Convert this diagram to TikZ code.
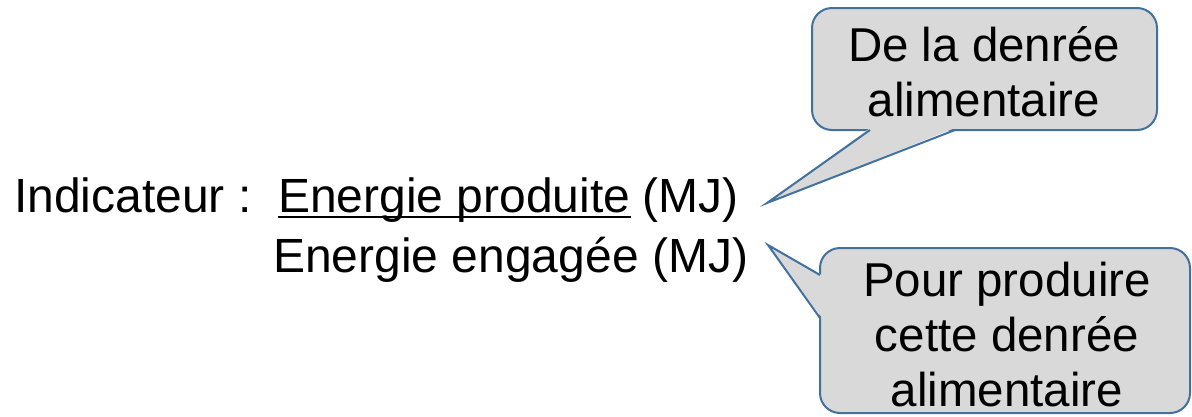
\documentclass[tikz,border=0pt]{standalone}
\usepackage{fontspec}
\setmainfont{Liberation Sans}
\definecolor{callfill}{HTML}{D9D9D9}
\definecolor{callline}{HTML}{41719C}
\begin{document}
\begin{tikzpicture}[x=1pt,y=1pt,
  txt/.style={inner sep=0pt,anchor=base west,font=\fontsize{48}{58}\selectfont},
  bubble/.style={draw=callline,fill=callfill,line width=2pt,rounded corners=20pt},
  bubbletext/.style={align=center,inner sep=0pt,font=\fontsize{47.5}{55}\selectfont},
  tail/.style={draw=callline,line width=2pt,line join=miter}]
\useasboundingbox (0,0) rectangle (1192,-416);
% main text
\node[txt] (ind) at (14,-212) {Indicateur :};
\node[txt] (prod) at (278,-212) {Energie produite};
\node[txt] (mj1) at (642,-212) {(MJ)};
\node[txt] (eng) at (273,-272) {Energie engagée (MJ)};
\draw[line width=1.8pt] ([yshift=-5pt]prod.base west) -- ([yshift=-5pt]prod.base east);
% top callout
\draw[bubble] (812,-8) rectangle (1157,-130);
\coordinate (ta) at (870,-130);
\coordinate (tb) at (955,-130);
\coordinate (tt) at (767,-203);
\fill[callfill] ([yshift=2pt]ta) -- (tt) -- ([yshift=2pt]tb) -- cycle;
\draw[tail] (ta) -- (tt) -- (tb);
\node[bubbletext] (top) at (984,-72) {De la denrée\\alimentaire};
% bottom callout
\draw[bubble] (820,-248) rectangle (1190,-413);
\coordinate (ba) at (820,-275);
\coordinate (bb) at (820,-318);
\coordinate (bt) at (768,-245);
\fill[callfill] ([xshift=2pt]ba) -- (bt) -- ([xshift=2pt]bb) -- cycle;
\draw[tail] (ba) -- (bt) -- (bb);
\node[bubbletext] (bot) at (1007,-335) {Pour produire\\cette denrée\\alimentaire};
\end{tikzpicture}
\end{document}
